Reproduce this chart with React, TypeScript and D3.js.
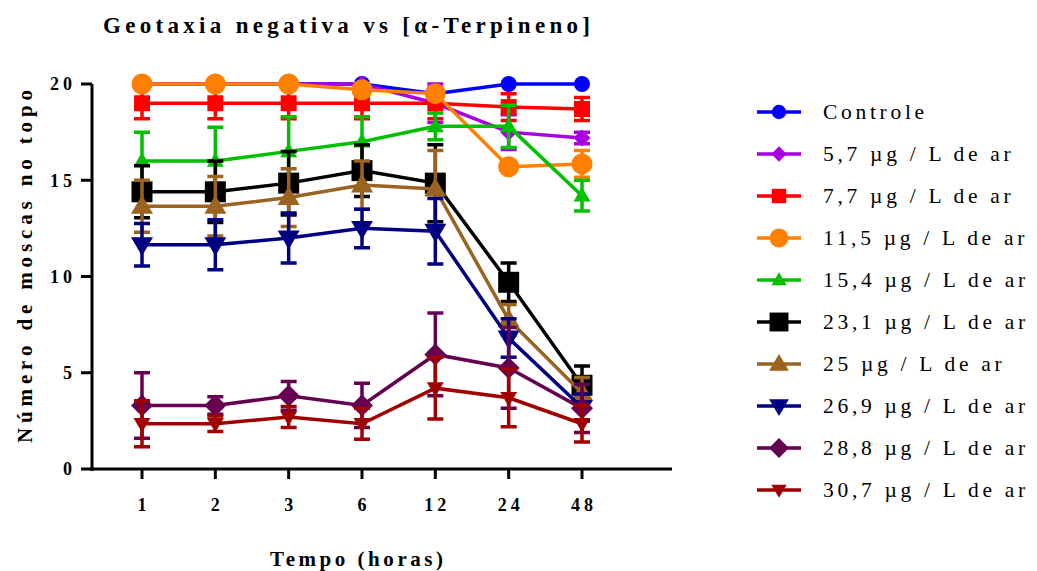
import React from "react";
import * as d3 from "d3";

// time points (hours) and y ticks
const times = ["1", "2", "3", "6", "12", "24", "48"];
const yTicks = [0, 5, 10, 15, 20];

const seriesNames = [
  "Controle",
  "5,7 µg / L de ar",
  "7,7 µg / L de ar",
  "11,5 µg / L de ar",
  "15,4 µg / L de ar",
  "23,1 µg / L de ar",
  "25 µg / L de ar",
  "26,9 µg / L de ar",
  "28,8 µg / L de ar",
  "30,7 µg / L de ar",
];
const seriesColors = ["#0000ff", "#a800e0", "#ff0000", "#ff8000", "#00c000", "#000000", "#9a6320", "#000080", "#660050", "#a00000"];
const seriesShapes = ["circle", "diamond", "square", "circle", "triangle", "square", "triangle", "triangleDown", "diamond", "triangleDown"];
const seriesSizes = [16, 17, 16, 21, 17, 21, 22, 22, 22, 17];

// means and SEM
const controle = [20, 20, 20, 20, 19.5, 20, 20];
const controleErr = [0, 0, 0, 0, 0, 0, 0];
const c57 = [20, 20, 20, 20, 19, 17.5, 17.2];
const c57Err = [0, 0, 0, 0, 1, 0.9, 0.3];
const c77 = [19, 19, 19, 19, 19, 18.8, 18.7];
const c77Err = [0.8, 0.8, 0.8, 0.8, 0.8, 0.7, 0.6];
const c115 = [20, 20, 20, 19.7, 19.5, 15.7, 15.85];
const c115Err = [0, 0, 0, 0.3, 0.3, 0, 0.7];
const c154 = [16, 16, 16.5, 17, 17.8, 17.8, 14.2];
const c154Err = [1.5, 1.75, 1.8, 1.3, 0.7, 1.1, 0.8];
const c231 = [14.4, 14.4, 14.85, 15.5, 14.85, 9.7, 4.35];
const c231Err = [1.35, 1.6, 1.65, 1.35, 2.0, 1.0, 1.0];
const c25 = [13.65, 13.65, 14.1, 14.75, 14.55, 7.75, 3.95];
const c25Err = [1.35, 1.55, 1.5, 1.25, 2.0, 0.8, 0.8];
const c269 = [11.65, 11.65, 12.0, 12.5, 12.35, 6.8, 3.2];
const c269Err = [1.1, 1.3, 1.3, 1.0, 1.7, 1.0, 0.7];
const c288 = [3.3, 3.3, 3.8, 3.3, 5.95, 5.25, 3.15];
const c288Err = [1.7, 0.45, 0.75, 1.15, 2.15, 2.1, 1.25];
const c307 = [2.35, 2.35, 2.7, 2.35, 4.2, 3.7, 2.35];
const c307Err = [1.2, 0.4, 0.55, 0.8, 1.6, 1.5, 0.95];

const seriesValues = [controle, c57, c77, c115, c154, c231, c25, c269, c288, c307];
const seriesErrors = [controleErr, c57Err, c77Err, c115Err, c154Err, c231Err, c25Err, c269Err, c288Err, c307Err];

const W = 1037;
const H = 571;
const serif = "Liberation Serif";

function shapePath(shape: string, s: number) {
  const r = s / 2;
  if (shape === "circle") return `M${-r},0A${r},${r} 0 1,0 ${r},0A${r},${r} 0 1,0 ${-r},0Z`;
  if (shape === "square") return `M${-r},${-r}H${r}V${r}H${-r}Z`;
  if (shape === "diamond") return `M0,${-r}L${r},0L0,${r}L${-r},0Z`;
  const h = s * 0.85;
  if (shape === "triangle") return `M0,${-h * 0.6}L${r},${h * 0.4}L${-r},${h * 0.4}Z`;
  return `M0,${h * 0.6}L${r},${-h * 0.4}L${-r},${-h * 0.4}Z`;
}

export default function App() {
  const x = d3.scalePoint<string>().domain(times).range([142, 582]);
  const y = d3.scaleLinear().domain([0, 20]).range([469, 84]);

  const line = d3.line<number>()
    .x((d, i) => x(times[i]) as number)
    .y((d) => y(d));

  const bold = { fontFamily: serif, fontWeight: "bold" as const };

  return (
    <svg width={W} height={H} style={{ position: "absolute", left: 0, top: 0, background: "#fff" }}>
      {/* title */}
      <text x={103} y={33} fontSize={23} textLength={487} lengthAdjust="spacing" style={bold}>
        Geotaxia negativa vs [α-Terpineno]
      </text>

      {/* y axis */}
      <path d="M92,471V84" stroke="#000" strokeWidth={3} fill="none" />
      {yTicks.map((t) => (
        <g key={t} transform={`translate(92,${y(t)})`}>
          <line x1={-11} x2={0} stroke="#000" strokeWidth={3} />
          <text x={-16} dy="0.35em" textAnchor="end" fontSize={18} letterSpacing={4} style={bold}>
            {t}
          </text>
        </g>
      ))}

      {/* x axis */}
      <path d="M90.5,469H672" stroke="#000" strokeWidth={3} fill="none" />
      {times.map((t) => (
        <g key={t} transform={`translate(${x(t)},469)`}>
          <line y1={0} y2={10} stroke="#000" strokeWidth={3} />
          <text x={2} y={42} textAnchor="middle" fontSize={18} letterSpacing={4} style={bold}>
            {t}
          </text>
        </g>
      ))}

      {/* axis titles */}
      <text x={270} y={566} fontSize={21} textLength={173} lengthAdjust="spacing" style={bold}>
        Tempo (horas)
      </text>
      <text transform="translate(32,443) rotate(-90)" fontSize={21} textLength={353} lengthAdjust="spacing" style={bold}>
        Número de moscas no topo
      </text>

      {/* series */}
      {seriesValues.map((vals, si) => {
        const color = seriesColors[si];
        const errs = seriesErrors[si];
        return (
          <g key={si}>
            <path d={line(vals) || ""} fill="none" stroke={color} strokeWidth={3.5} />
            {vals.map((v, i) => {
              const e = errs[i];
              if (e <= 0) return null;
              const cx = x(times[i]) as number;
              const lo = y(v - e);
              const hi = y(v + e);
              return (
                <path
                  key={i}
                  d={`M${cx},${lo}V${hi}M${cx - 8},${lo}H${cx + 8}M${cx - 8},${hi}H${cx + 8}`}
                  fill="none"
                  stroke={color}
                  strokeWidth={3.5}
                />
              );
            })}
            {vals.map((v, i) => (
              <path
                key={"m" + i}
                transform={`translate(${x(times[i])},${y(v)})`}
                d={shapePath(seriesShapes[si], seriesSizes[si])}
                fill={color}
              />
            ))}
          </g>
        );
      })}

      {/* legend */}
      {seriesNames.map((name, i) => {
        const ly = 112 + i * 42;
        return (
          <g key={name}>
            <line x1={757} x2={801} y1={ly} y2={ly} stroke={seriesColors[i]} strokeWidth={3.5} />
            <path transform={`translate(779,${ly})`} d={shapePath(seriesShapes[i], seriesSizes[i] * 0.9)} fill={seriesColors[i]} />
            <text x={823} y={ly + 7} fontSize={21.5} letterSpacing={3.7} style={{ fontFamily: serif }}>
              {name}
            </text>
          </g>
        );
      })}
    </svg>
  );
}
